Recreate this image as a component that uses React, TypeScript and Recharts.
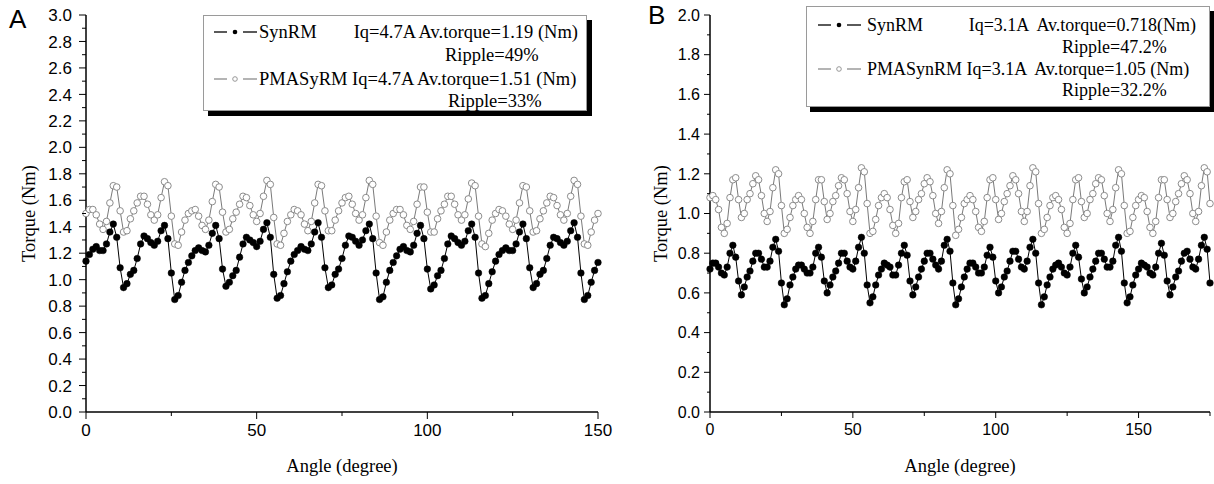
import React from "react";
import { LineChart, Line, XAxis, YAxis } from "recharts";

const SERIF = '"Liberation Serif", "Times New Roman", serif';
const SANS = '"Liberation Sans", Arial, sans-serif';

// torque samples, one per degree of rotor angle
const synA = [
  1.14, 1.19, 1.23, 1.25, 1.22, 1.22, 1.27, 1.36, 1.42, 1.32,
  1.09, 0.94, 0.97, 1.04, 1.07, 1.16, 1.27, 1.33, 1.31, 1.28,
  1.26, 1.29, 1.37, 1.41, 1.31, 1.05, 0.85, 0.88, 0.98, 1.07,
  1.13, 1.18, 1.22, 1.24, 1.22, 1.21, 1.26, 1.35, 1.41, 1.31,
  1.08, 0.95, 0.98, 1.03, 1.07, 1.17, 1.27, 1.32, 1.30, 1.28,
  1.25, 1.29, 1.38, 1.43, 1.32, 1.04, 0.86, 0.88, 0.97, 1.06,
  1.14, 1.19, 1.22, 1.25, 1.23, 1.22, 1.27, 1.36, 1.43, 1.32,
  1.09, 0.94, 0.96, 1.04, 1.08, 1.16, 1.26, 1.33, 1.32, 1.29,
  1.26, 1.30, 1.37, 1.42, 1.31, 1.05, 0.85, 0.87, 0.98, 1.07,
  1.13, 1.18, 1.23, 1.25, 1.22, 1.21, 1.26, 1.35, 1.41, 1.31,
  1.08, 0.93, 0.96, 1.03, 1.07, 1.16, 1.27, 1.33, 1.31, 1.28,
  1.26, 1.29, 1.37, 1.42, 1.32, 1.05, 0.86, 0.88, 0.97, 1.06,
  1.14, 1.19, 1.22, 1.24, 1.22, 1.22, 1.27, 1.36, 1.42, 1.31,
  1.09, 0.94, 0.97, 1.04, 1.07, 1.16, 1.26, 1.32, 1.31, 1.28,
  1.26, 1.29, 1.37, 1.43, 1.32, 1.05, 0.85, 0.88, 0.98, 1.07,
  1.13,
];

const pmaA = [
  1.50, 1.53, 1.53, 1.49, 1.42, 1.38, 1.44, 1.58, 1.71, 1.70,
  1.52, 1.36, 1.37, 1.46, 1.52, 1.58, 1.63, 1.63, 1.57, 1.49,
  1.45, 1.49, 1.62, 1.74, 1.71, 1.48, 1.27, 1.26, 1.36, 1.45,
  1.50, 1.52, 1.53, 1.48, 1.41, 1.38, 1.45, 1.59, 1.72, 1.70,
  1.51, 1.36, 1.38, 1.46, 1.51, 1.57, 1.63, 1.62, 1.56, 1.49,
  1.44, 1.50, 1.63, 1.75, 1.72, 1.47, 1.27, 1.26, 1.35, 1.44,
  1.49, 1.53, 1.52, 1.49, 1.42, 1.37, 1.44, 1.58, 1.72, 1.71,
  1.52, 1.37, 1.37, 1.45, 1.52, 1.58, 1.62, 1.63, 1.57, 1.50,
  1.45, 1.49, 1.62, 1.75, 1.72, 1.48, 1.28, 1.26, 1.36, 1.45,
  1.50, 1.53, 1.53, 1.49, 1.41, 1.38, 1.44, 1.57, 1.70, 1.70,
  1.51, 1.36, 1.36, 1.46, 1.52, 1.57, 1.63, 1.63, 1.57, 1.49,
  1.45, 1.49, 1.61, 1.73, 1.71, 1.48, 1.27, 1.25, 1.35, 1.45,
  1.50, 1.53, 1.52, 1.48, 1.42, 1.38, 1.45, 1.58, 1.71, 1.70,
  1.52, 1.36, 1.37, 1.46, 1.52, 1.58, 1.63, 1.62, 1.56, 1.49,
  1.45, 1.50, 1.63, 1.75, 1.72, 1.48, 1.27, 1.26, 1.36, 1.45,
  1.50,
];

const synB = [
  0.72, 0.75, 0.75, 0.73, 0.70, 0.69, 0.73, 0.80, 0.84, 0.78,
  0.66, 0.59, 0.63, 0.68, 0.71, 0.76, 0.80, 0.80, 0.77, 0.73,
  0.73, 0.76, 0.83, 0.87, 0.81, 0.65, 0.54, 0.57, 0.64, 0.68,
  0.72, 0.74, 0.74, 0.72, 0.70, 0.70, 0.73, 0.80, 0.83, 0.78,
  0.66, 0.60, 0.64, 0.68, 0.71, 0.75, 0.80, 0.80, 0.76, 0.73,
  0.72, 0.76, 0.83, 0.88, 0.80, 0.64, 0.55, 0.58, 0.64, 0.69,
  0.72, 0.75, 0.74, 0.73, 0.69, 0.69, 0.74, 0.80, 0.84, 0.79,
  0.66, 0.59, 0.63, 0.68, 0.72, 0.76, 0.80, 0.80, 0.77, 0.74,
  0.72, 0.76, 0.84, 0.87, 0.81, 0.65, 0.54, 0.57, 0.63, 0.68,
  0.72, 0.75, 0.75, 0.73, 0.70, 0.70, 0.73, 0.79, 0.83, 0.78,
  0.66, 0.60, 0.63, 0.68, 0.71, 0.76, 0.81, 0.81, 0.77, 0.73,
  0.72, 0.76, 0.83, 0.87, 0.80, 0.65, 0.54, 0.58, 0.64, 0.68,
  0.72, 0.74, 0.75, 0.73, 0.70, 0.69, 0.73, 0.80, 0.84, 0.78,
  0.67, 0.60, 0.63, 0.68, 0.72, 0.76, 0.80, 0.80, 0.77, 0.73,
  0.73, 0.76, 0.84, 0.88, 0.81, 0.65, 0.55, 0.58, 0.64, 0.69,
  0.72, 0.75, 0.74, 0.73, 0.70, 0.69, 0.73, 0.80, 0.85, 0.79,
  0.66, 0.59, 0.63, 0.68, 0.71, 0.76, 0.80, 0.81, 0.77, 0.73,
  0.72, 0.77, 0.84, 0.88, 0.82, 0.65,
];

const pmaB = [
  1.08, 1.09, 1.07, 1.02, 0.93, 0.90, 0.95, 1.08, 1.17, 1.18,
  1.07, 0.98, 1.00, 1.07, 1.10, 1.15, 1.19, 1.17, 1.09, 1.00,
  0.96, 1.01, 1.13, 1.22, 1.20, 1.04, 0.90, 0.92, 0.98, 1.04,
  1.07, 1.09, 1.07, 1.00, 0.93, 0.90, 0.96, 1.07, 1.17, 1.17,
  1.06, 0.97, 1.00, 1.06, 1.09, 1.14, 1.18, 1.17, 1.10, 1.01,
  0.96, 1.02, 1.13, 1.23, 1.21, 1.05, 0.90, 0.91, 0.97, 1.04,
  1.08, 1.10, 1.08, 1.02, 0.94, 0.90, 0.95, 1.08, 1.16, 1.17,
  1.06, 0.98, 1.01, 1.07, 1.10, 1.15, 1.18, 1.16, 1.09, 1.00,
  0.95, 1.01, 1.13, 1.22, 1.20, 1.04, 0.89, 0.92, 0.98, 1.05,
  1.07, 1.09, 1.07, 1.01, 0.93, 0.91, 0.96, 1.08, 1.17, 1.18,
  1.07, 0.97, 1.00, 1.06, 1.10, 1.14, 1.19, 1.17, 1.10, 1.01,
  0.96, 1.01, 1.14, 1.23, 1.21, 1.05, 0.90, 0.92, 0.98, 1.04,
  1.08, 1.09, 1.07, 1.02, 0.93, 0.90, 0.95, 1.07, 1.17, 1.18,
  1.06, 0.98, 1.00, 1.07, 1.10, 1.15, 1.18, 1.17, 1.09, 1.00,
  0.96, 1.02, 1.13, 1.22, 1.20, 1.04, 0.90, 0.91, 0.98, 1.04,
  1.07, 1.09, 1.08, 1.01, 0.93, 0.90, 0.96, 1.08, 1.17, 1.17,
  1.07, 0.98, 1.00, 1.06, 1.10, 1.15, 1.19, 1.17, 1.10, 1.00,
  0.96, 1.01, 1.14, 1.23, 1.21, 1.05,
];

const xTicksA = [0, 25, 50, 75, 100, 125, 150];
const xTicksB = [0, 25, 50, 75, 100, 125, 150, 175];
const yTicksA = [
  0, 0.1, 0.2, 0.3, 0.4, 0.5, 0.6, 0.7, 0.8, 0.9, 1.0, 1.1, 1.2, 1.3, 1.4, 1.5,
  1.6, 1.7, 1.8, 1.9, 2.0, 2.1, 2.2, 2.3, 2.4, 2.5, 2.6, 2.7, 2.8, 2.9, 3.0,
];
const yTicksB = [
  0, 0.1, 0.2, 0.3, 0.4, 0.5, 0.6, 0.7, 0.8, 0.9, 1.0, 1.1, 1.2, 1.3, 1.4, 1.5,
  1.6, 1.7, 1.8, 1.9, 2.0,
];

const rowsA = synA.map((v, i) => ({ angle: i, syn: v, pma: pmaA[i] }));
const rowsB = synB.map((v, i) => ({ angle: i, syn: v, pma: pmaB[i] }));

const makeYTick = (major: number, minor: number, gap: number, size: number) =>
  (p: any) => {
    const v = p.payload.value;
    const isMajor = Math.round(v * 10) % 2 === 0;
    const len = isMajor ? major : minor;
    return (
      <g>
        <line x1={p.x - len} x2={p.x} y1={p.y} y2={p.y} stroke="#000" strokeWidth={1} />
        {isMajor ? (
          <text x={p.x - gap} y={p.y} dy="0.36em" textAnchor="end" fontFamily={SANS} fontSize={size} fill="#000">
            {v.toFixed(1)}
          </text>
        ) : null}
      </g>
    );
  };

const makeXTick = (major: number, minor: number, gap: number, size: number) =>
  (p: any) => {
    const v = p.payload.value;
    const isMajor = v % 50 === 0;
    const len = isMajor ? major : minor;
    return (
      <g>
        <line x1={p.x} x2={p.x} y1={p.y} y2={p.y + len} stroke="#000" strokeWidth={1} />
        {isMajor ? (
          <text x={p.x} y={p.y + gap} dy="0.71em" textAnchor="middle" fontFamily={SANS} fontSize={size} fill="#000">
            {v}
          </text>
        ) : null}
      </g>
    );
  };

const xTitle = (props: any) => {
  const vb = props.viewBox;
  return (
    <text x={vb.x + vb.width / 2} y={vb.y + vb.height - 12} textAnchor="middle" fontFamily={SERIF} fontSize={18.5} fill="#000">
      Angle (degree)
    </text>
  );
};

const yTitle = (cx: number) => (props: any) => {
  const vb = props.viewBox;
  const cy = vb.y + vb.height / 2;
  return (
    <text x={cx} y={cy} transform={`rotate(-90 ${cx} ${cy})`} textAnchor="middle" dominantBaseline="central" fontFamily={SERIF} fontSize={18.5} fill="#000">
      Torque (Nm)
    </text>
  );
};

function Panel({ rows, xMax, xTicks, yMax, yTicks, yWidth, plotW, right, yTick, xTick, titleX }: any) {
  return (
    <LineChart width={yWidth + plotW + right} height={484} data={rows} margin={{ top: 15, right, bottom: 0, left: 0 }}>
      <XAxis
        dataKey="angle"
        type="number"
        domain={[0, xMax]}
        ticks={xTicks}
        interval={0}
        height={72}
        tickSize={0}
        tickMargin={0}
        tickLine={false}
        tick={xTick}
        axisLine={{ stroke: "#000", strokeWidth: 1.5 }}
        label={xTitle}
      />
      <YAxis
        type="number"
        domain={[0, yMax]}
        ticks={yTicks}
        interval={0}
        width={yWidth}
        tickSize={0}
        tickMargin={0}
        tickLine={false}
        tick={yTick}
        axisLine={{ stroke: "#000", strokeWidth: 1.5 }}
        label={yTitle(titleX)}
      />
      <Line
        dataKey="pma"
        type="linear"
        stroke="#7a7a7a"
        strokeWidth={1}
        dot={{ r: 3.3, fill: "#fff", stroke: "#8c8c8c", strokeWidth: 1 }}
        activeDot={false}
        isAnimationActive={false}
      />
      <Line
        dataKey="syn"
        type="linear"
        stroke="#000"
        strokeWidth={1}
        dot={{ r: 3.3, fill: "#000", stroke: "#000", strokeWidth: 0.5 }}
        activeDot={false}
        isAnimationActive={false}
      />
    </LineChart>
  );
}

function Sym({ left, top, filled }: { left: number; top: number; filled: boolean }) {
  const c = filled ? "#000" : "#8c8c8c";
  return (
    <svg width={44} height={10} style={{ position: "absolute", left, top: top - 5 }}>
      <line x1={0} x2={13} y1={5} y2={5} stroke={c} strokeWidth={1.3} />
      <line x1={29} x2={43} y1={5} y2={5} stroke={c} strokeWidth={1.3} />
      {filled ? <circle cx={21} cy={5} r={2.3} fill="#000" /> : <circle cx={21} cy={5} r={2.3} fill="#fff" stroke={c} strokeWidth={0.9} />}
    </svg>
  );
}

// text anchored either at its left edge or at its right edge (page x)
function T({ left, rightAt, cy, size, children }: any) {
  const pos: any = rightAt !== undefined ? { right: 1214 - rightAt } : { left };
  return (
    <span style={{ position: "absolute", ...pos, top: cy - size * 0.51, fontFamily: SERIF, fontSize: size, lineHeight: 1, whiteSpace: "pre", color: "#000" }}>
      {children}
    </span>
  );
}

export default function App() {
  return (
    <div style={{ position: "absolute", left: 0, top: 0, width: 1214, height: 484, background: "#fff", overflow: "hidden" }}>
      <div style={{ position: "absolute", left: 0, top: 0 }}>
        <Panel rows={rowsA} xMax={150} xTicks={xTicksA} yMax={3} yTicks={yTicksA} yWidth={86} plotW={512} right={22}
          yTick={makeYTick(7, 4, 14, 17)} xTick={makeXTick(7, 4, 12, 17)} titleX={29} />
      </div>
      <div style={{ position: "absolute", left: 620, top: 0 }}>
        <Panel rows={rowsB} xMax={175} xTicks={xTicksB} yMax={2} yTicks={yTicksB} yWidth={90} plotW={500} right={4}
          yTick={makeYTick(6, 3, 10, 16)} xTick={makeXTick(6, 4, 12, 16)} titleX={41} />
      </div>

      <div style={{ position: "absolute", left: 9, top: 6, fontFamily: SANS, fontSize: 26, lineHeight: 1 }}>A</div>
      <div style={{ position: "absolute", left: 648, top: 2, fontFamily: SANS, fontSize: 26, lineHeight: 1 }}>B</div>

      <div style={{ position: "absolute", left: 203, top: 15, width: 382, height: 94, border: "1px solid #9a9a9a", background: "#fff", boxShadow: "5px 5px 0 #000" }} />
      <Sym left={214} top={32} filled />
      <T left={259} cy={32} size={18.5}>SynRM</T>
      <T rightAt={578} cy={32} size={18.5}>Iq=4.7A Av.torque=1.19 (Nm)</T>
      <T left={445} cy={55} size={18.5}>Ripple=49%</T>
      <Sym left={214} top={79} filled={false} />
      <T left={259} cy={79} size={18.5}>PMASyRM Iq=4.7A Av.torque=1.51 (Nm)</T>
      <T left={448} cy={101} size={18.5}>Ripple=33%</T>

      <div style={{ position: "absolute", left: 806, top: 6, width: 402, height: 99, border: "1px solid #9a9a9a", background: "#fff", boxShadow: "4px 5px 0 #000" }} />
      <Sym left={818} top={25} filled />
      <T left={867} cy={25} size={18}>SynRM</T>
      <T rightAt={1196} cy={25} size={18}>{"Iq=3.1A  Av.torque=0.718(Nm)"}</T>
      <T left={1062} cy={47} size={18}>Ripple=47.2%</T>
      <Sym left={818} top={69} filled={false} />
      <T left={867} cy={69} size={18}>{"PMASynRM Iq=3.1A  Av.torque=1.05 (Nm)"}</T>
      <T left={1062} cy={90} size={18}>Ripple=32.2%</T>
    </div>
  );
}
